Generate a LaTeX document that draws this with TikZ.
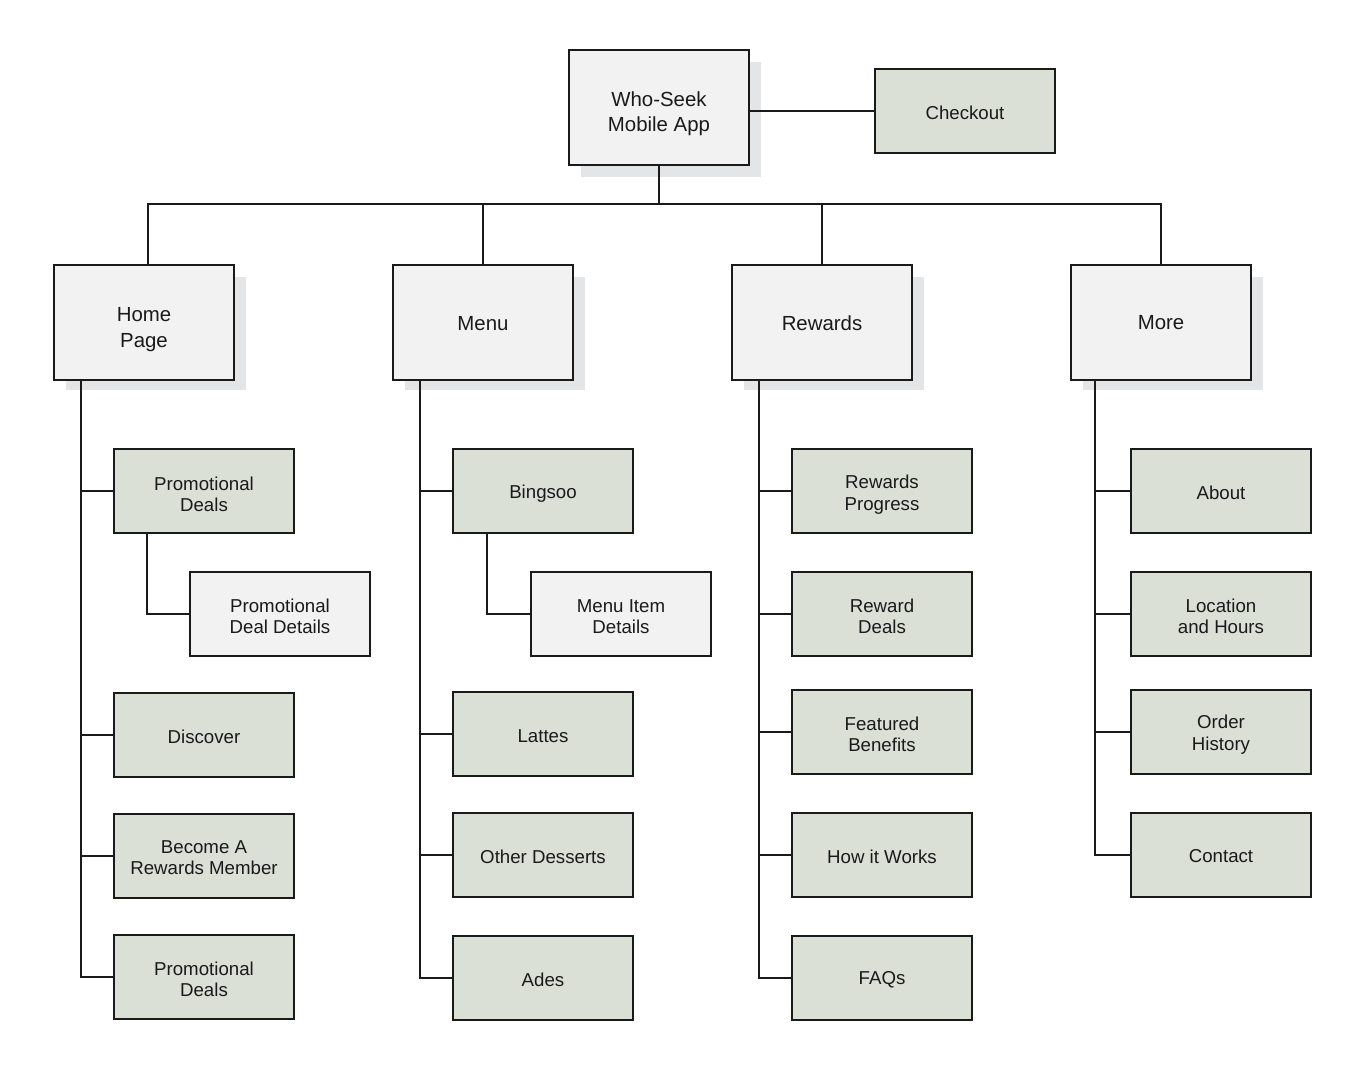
\documentclass[tikz,border=0pt]{standalone}
\usepackage{fontspec}
\setmainfont{Liberation Sans}
\usetikzlibrary{backgrounds,calc}
\definecolor{sage}{HTML}{DAE0D5}
\definecolor{lgray}{HTML}{F2F2F2}
\definecolor{shad}{HTML}{E4E5E7}
\definecolor{ink}{HTML}{1A1A1A}
\begin{document}
\begin{tikzpicture}[x=0.75pt,y=-0.75pt,
  box/.style={draw=ink, line width=1.5pt, inner sep=0pt, minimum width=135pt},
  big/.style={box, fill=lgray, minimum height=86.25pt},
  leaf/.style={box, fill=sage, minimum height=63pt},
  subleaf/.style={leaf, fill=lgray},
  bigtxt/.style={inner sep=0pt, align=center, text=ink, font=\fontsize{15.3}{19}\selectfont},
  leaftxt/.style={inner sep=0pt, align=center, text=ink, font=\fontsize{14}{16}\selectfont},
  wire/.style={draw=ink, line width=1.5pt},
  shadowbox/.style={fill=shad}
]
\useasboundingbox (0,0) rectangle (1366,1076);
% shadows
\fill[shadowbox] (581,62) rectangle (761,177);
\fill[shadowbox] (66,277) rectangle (246,390);
\fill[shadowbox] (405,277) rectangle (585,390);
\fill[shadowbox] (744,277) rectangle (924,390);
\fill[shadowbox] (1083,277) rectangle (1263,390);

\node[big] (root) at (659,107.5) {};
\node[leaf] (checkout) at (965,111) {};

\node[big] (home) at (144,322.5) {};
\node[big] (menu) at (483,322.5) {};
\node[big] (rewards) at (822,322.5) {};
\node[big] (more) at (1161,322.5) {};

\node[leaf] (hpd) at (204,491) {};
\node[subleaf] (hpdd) at (280,614) {};
\node[leaf] (hdis) at (204,735) {};
\node[leaf] (hbec) at (204,856) {};
\node[leaf] (hpd2) at (204,977) {};

\node[leaf] (mbing) at (543,491) {};
\node[subleaf] (mitem) at (621,614) {};
\node[leaf] (mlat) at (543,734) {};
\node[leaf] (moth) at (543,855) {};
\node[leaf] (mades) at (543,978) {};

\node[leaf] (rprog) at (882,491) {};
\node[leaf] (rdeal) at (882,614) {};
\node[leaf] (rfeat) at (882,732) {};
\node[leaf] (rhow) at (882,855) {};
\node[leaf] (rfaq) at (882,978) {};

\node[leaf] (mabout) at (1221,491) {};
\node[leaf] (mloc) at (1221,614) {};
\node[leaf] (mord) at (1221,732) {};
\node[leaf] (mcon) at (1221,855) {};

% texts
\node[bigtxt] (t-root) at ($(root.center)+(0,6)$) {Who-Seek\\Mobile App};
\node[leaftxt] (t-checkout) at ($(checkout.center)+(0,2)$) {Checkout};
\node[bigtxt] (t-home) at ($(home.center)+(0,7)$) {Home\\Page};
\node[bigtxt] (t-menu) at ($(menu.center)+(0,1)$) {Menu};
\node[bigtxt] (t-rewards) at ($(rewards.center)+(0,0.5)$) {Rewards};
\node[bigtxt] (t-more) at ($(more.center)+(0,0.5)$) {More};

\node[leaftxt] (t-hpd) at ($(hpd.center)+(0,3.5)$) {Promotional\\Deals};
\node[leaftxt] (t-hpdd) at ($(hpdd.center)+(0,2.5)$) {Promotional\\Deal Details};
\node[leaftxt] (t-hdis) at ($(hdis.center)+(0,1.5)$) {Discover};
\node[leaftxt] (t-hbec) at ($(hbec.center)+(0,1.5)$) {Become A\\Rewards Member};
\node[leaftxt] (t-hpd2) at ($(hpd2.center)+(0,2.5)$) {Promotional\\Deals};

\node[leaftxt] (t-mbing) at ($(mbing.center)+(0,2.5)$) {Bingsoo};
\node[leaftxt] (t-mitem) at ($(mitem.center)+(0,2.5)$) {Menu Item\\Details};
\node[leaftxt] (t-mlat) at ($(mlat.center)+(0,2)$) {Lattes};
\node[leaftxt] (t-moth) at ($(moth.center)+(0,2)$) {Other Desserts};
\node[leaftxt] (t-mades) at ($(mades.center)+(0,2)$) {Ades};

\node[leaftxt] (t-rprog) at ($(rprog.center)+(0,3.5)$) {Rewards\\Progress};
\node[leaftxt] (t-rdeal) at ($(rdeal.center)+(0,2.5)$) {Reward\\Deals};
\node[leaftxt] (t-rfeat) at ($(rfeat.center)+(0,2.5)$) {Featured\\Benefits};
\node[leaftxt] (t-rhow) at ($(rhow.center)+(0,1.5)$) {How it Works};
\node[leaftxt] (t-rfaq) at ($(rfaq.center)+(0,2)$) {FAQs};

\node[leaftxt] (t-mabout) at ($(mabout.center)+(0,2)$) {About};
\node[leaftxt] (t-mloc) at ($(mloc.center)+(0,2.5)$) {Location\\and Hours};
\node[leaftxt] (t-mord) at ($(mord.center)+(0,2.5)$) {Order\\History};
\node[leaftxt] (t-mcon) at ($(mcon.center)+(0,1.5)$) {Contact};

% top connectors
\draw[wire] (root.east |- checkout.west) -- (checkout.west);
\coordinate (bj) at (659,204);
\draw[wire] (root.south) -- (bj);
\draw[wire] ($(home.north)+(4,0)$) -- ($(home.north|-bj)+(4,0)$) -- (more.north|-bj) -- (more.north);
\draw[wire] (menu.north) -- (menu.north|-bj);
\draw[wire] (rewards.north) -- (rewards.north|-bj);

% Home spine
\coordinate (hs) at ($(home.south west)+(28,0)$);
\draw[wire] (hs) |- (hpd2.west);
\draw[wire] (hs|-hpd.west) -- (hpd.west);
\draw[wire] (hs|-hdis.west) -- (hdis.west);
\draw[wire] (hs|-hbec.west) -- (hbec.west);
\draw[wire] ($(hpd.south west)+(34,0)$) |- (hpdd.west);

% Menu spine
\coordinate (ms) at ($(menu.south west)+(28,0)$);
\draw[wire] (ms) |- (mades.west);
\draw[wire] (ms|-mbing.west) -- (mbing.west);
\draw[wire] (ms|-mlat.west) -- (mlat.west);
\draw[wire] (ms|-moth.west) -- (moth.west);
\draw[wire] ($(mbing.south west)+(35,0)$) |- (mitem.west);

% Rewards spine
\coordinate (rs) at ($(rewards.south west)+(28,0)$);
\draw[wire] (rs) |- (rfaq.west);
\draw[wire] (rs|-rprog.west) -- (rprog.west);
\draw[wire] (rs|-rdeal.west) -- (rdeal.west);
\draw[wire] (rs|-rfeat.west) -- (rfeat.west);
\draw[wire] (rs|-rhow.west) -- (rhow.west);

% More spine
\coordinate (os) at ($(more.south west)+(25,0)$);
\draw[wire] (os) |- (mcon.west);
\draw[wire] (os|-mabout.west) -- (mabout.west);
\draw[wire] (os|-mloc.west) -- (mloc.west);
\draw[wire] (os|-mord.west) -- (mord.west);
\end{tikzpicture}
\end{document}
